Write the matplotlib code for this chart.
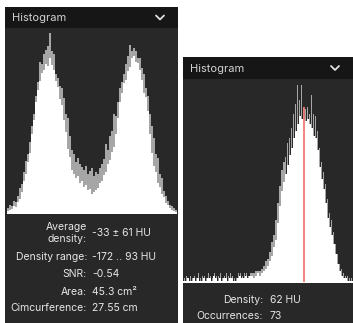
import numpy as np
import matplotlib
matplotlib.use("Agg")
import matplotlib.pyplot as plt
from matplotlib.patches import Rectangle

plt.rcParams['font.family'] = ['Inter', 'DejaVu Sans']

# ---- data ----
# left panel: region histogram, density range -172 .. 93 HU
left_range = (-172, 93)
left_white = [3, 4, 5, 8, 7, 12, 15, 22, 33, 40, 52, 61, 80, 94, 112, 124, 133, 141, 144, 150,
              148, 156, 149, 144, 133, 127, 115, 109, 94, 82, 65, 57, 44, 40, 36, 38, 31, 33, 27, 29,
              24, 25, 20, 22, 24, 26, 31, 33, 39, 42, 50, 54, 62, 67, 80, 96, 112, 121, 131, 134,
              143, 147, 156, 158, 152, 151, 144, 134, 121, 117, 103, 80, 61, 48, 42, 31, 27, 20, 17, 11,
              9, 6, 4, 3, 2]
left_peak = [6, 9, 8, 13, 12, 18, 26, 30, 42, 53, 60, 72, 88, 100, 118, 132, 152, 150, 160, 164,
             168, 181, 163, 160, 140, 136, 128, 126, 116, 100, 96, 78, 64, 60, 52, 56, 50, 47, 44, 48,
             40, 43, 46, 38, 42, 40, 46, 50, 55, 70, 64, 78, 83, 100, 98, 112, 126, 132, 140, 150,
             158, 169, 163, 166, 163, 156, 156, 146, 140, 126, 118, 100, 88, 76, 60, 56, 40, 36, 23, 18,
             13, 9, 8, 6, 4]
left_labels = ["Average\ndensity:", "Density range:", "SNR:", "Area:", "Cimcurference:"]
left_values = ["-33 ± 61 HU", "-172 .. 93 HU", "-0.54", "45.3 cm²", "27.55 cm"]

# right panel: point histogram (occurrences per HU bin)
right_start, right_step = -58, 2
right_white = [1, 1, 2, 1, 1, 2, 1, 2, 1, 1, 2, 1, 2, 2, 1, 3, 2, 1, 2, 1,
               2, 2, 1, 2, 2, 1, 1, 2, 3, 2, 2, 3, 2, 3, 3, 2, 3, 4, 3,
               4, 5, 6, 7, 9, 11, 15, 18, 25, 32, 38, 42, 45, 49, 53, 56, 60, 63, 66, 69,
               68, 68, 67, 68, 66, 64, 61, 60, 55, 48, 43, 39, 33, 27, 23, 20, 16, 12, 8, 5,
               3, 2, 2, 1, 1, 1]
right_peak = [2, 3, 2, 3, 2, 3, 2, 4, 2, 3, 3, 2, 4, 3, 2, 4, 3, 3, 4, 2,
              3, 4, 3, 4, 3, 2, 2, 4, 4, 3, 4, 4, 3, 4, 4, 4, 5, 5, 5,
              6, 7, 9, 10, 13, 17, 20, 26, 33, 40, 47, 50, 52, 58, 60, 64, 70, 74, 82, 76,
              82, 73, 72, 73, 70, 78, 70, 69, 63, 56, 50, 46, 41, 35, 29, 26, 21, 16, 12, 8,
              6, 4, 3, 3, 2, 2]
density = 62
occurrences = 73

# ---- layout (pixels) ----
W, H = 353, 323
HEAD = '#161616'
BODY = '#282828'
TXT = '#e6e6e6'

fig = plt.figure(figsize=(W / 100, H / 100), dpi=100, facecolor='white')


def px_axes(x0, y0, x1, y1):
    return fig.add_axes([x0 / W, 1 - y1 / H, (x1 - x0) / W, (y1 - y0) / H])


bg = fig.add_axes([0, 0, 1, 1])
bg.set_xlim(0, W)
bg.set_ylim(H, 0)
bg.axis('off')

for (x0, y0, x1, hy) in [(5, 7, 178, 28), (183, 57, 353, 79)]:
    bg.add_patch(Rectangle((x0, y0), x1 - x0, H - y0, color=BODY, lw=0))
    bg.add_patch(Rectangle((x0, y0), x1 - x0, hy - y0, color=HEAD, lw=0))
    bg.text(x0 + 7, (y0 + hy) / 2 + 0.5, "Histogram", color='#d2d2d2', fontsize=8,
            ha='left', va='center')
    cx = x1 - 18
    cy = (y0 + hy) / 2
    bg.plot([cx - 4, cx, cx + 4], [cy - 2, cy + 2, cy - 2], color='#e0e0e0', lw=1.3,
            solid_capstyle='round', solid_joinstyle='round')

# left stats
rows_y = [233, 257, 274, 292, 308]
for lab, val, y in zip(left_labels, left_values, rows_y):
    bg.text(87, y, lab, color=TXT, fontsize=7.5, ha='right', va='center', linespacing=1.25)
    bg.text(92, y, val, color=TXT, fontsize=7.5, ha='left', va='center')

# right stats
bg.text(263, 300, "Density:", color=TXT, fontsize=7.5, ha='right', va='center')
bg.text(270, 300, f"{density} HU", color=TXT, fontsize=7.5, ha='left', va='center')
bg.text(263, 316, "Occurrences:", color=TXT, fontsize=7.5, ha='right', va='center')
bg.text(270, 316, f"{occurrences}", color=TXT, fontsize=7.5, ha='left', va='center')

# ---- left histogram ----
axl = px_axes(7, 28, 177, 214)
axl.patch.set_alpha(0)
n = len(left_white)
w = (left_range[1] - left_range[0]) / n
centers = left_range[0] + w * (np.arange(n) + 0.5)
axl.bar(centers, left_peak, width=w * 0.6, color='#a6a6a6', lw=0)
axl.bar(centers, left_white, width=w * 1.02, color='white', lw=0)
axl.axhline(0, color='white', lw=2.2)
axl.set_xlim(*left_range)
axl.set_ylim(0, 186)
axl.axis('off')

# ---- right histogram ----
axr = px_axes(183, 79, 353, 283)
axr.patch.set_alpha(0)
m = len(right_white)
rc = right_start + right_step * np.arange(m)
axr.bar(rc, right_peak, width=right_step * 0.6, color='#a6a6a6', lw=0)
axr.bar(rc, right_white, width=right_step * 1.02, color='white', lw=0)
axr.vlines(density, 0, occurrences, color='#ee7b76', lw=1.3)
axr.axhline(0, color='white', lw=2.2)
axr.set_xlim(right_start - 1.5, right_start + right_step * m - 0.5)
axr.set_ylim(0, 84.5)
axr.axis('off')

fig.savefig('out.png', dpi=100, facecolor='white')
